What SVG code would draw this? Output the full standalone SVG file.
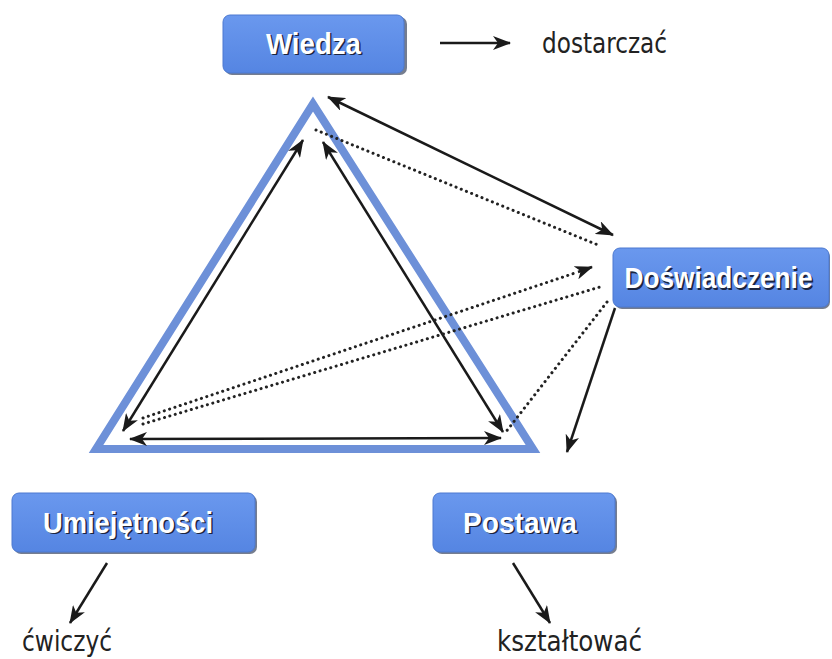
<svg xmlns="http://www.w3.org/2000/svg" width="832" height="659" viewBox="0 0 832 659">
<style>
.box{fill:url(#bg);stroke:#4c79d0;stroke-width:1}
.shadow{fill:#3a4660;opacity:0.7}
.lbl{font-family:"Liberation Sans",Arial,sans-serif;font-weight:bold;font-size:29px;text-anchor:middle}
.lbl-s{fill:#1c2540}
.lbl-f{fill:#ffffff}
.txt{font-family:"DejaVu Sans Condensed","DejaVu Sans",sans-serif;font-size:29px;fill:#222}
.arr{stroke:#1a1a1a;stroke-width:2.5;fill:none}
.dot{stroke:#222;stroke-width:3;fill:none;stroke-linecap:round;stroke-dasharray:0.1 5.5}
</style>
<defs>
<linearGradient id="bg" x1="0" y1="0" x2="0" y2="1">
<stop offset="0" stop-color="#6a98ee"/>
<stop offset="1" stop-color="#5585e2"/>
</linearGradient>
<marker id="ah" markerUnits="userSpaceOnUse" markerWidth="18" markerHeight="14" viewBox="0 0 18 14" refX="17" refY="7" orient="auto-start-reverse">
<path d="M0,0 L18,7 L0,14 L5,7 z" fill="#1a1a1a"/>
</marker>
</defs>

<g id="triangle">
<polygon points="313,104 96,449 533,449" fill="none" stroke="#6d90d8" stroke-width="8" stroke-linejoin="miter"/>
</g>

<g id="connectors">
<line class="arr" x1="440" y1="43" x2="510" y2="43" marker-end="url(#ah)"/>
<line class="arr" x1="328" y1="97" x2="613" y2="235" marker-start="url(#ah)" marker-end="url(#ah)"/>
<line class="arr" x1="303" y1="140" x2="123" y2="431" marker-start="url(#ah)" marker-end="url(#ah)"/>
<line class="arr" x1="323" y1="142" x2="503" y2="432" marker-start="url(#ah)" marker-end="url(#ah)"/>
<line class="arr" x1="130" y1="439" x2="501" y2="438" marker-start="url(#ah)" marker-end="url(#ah)"/>
<line class="arr" x1="615" y1="308" x2="567" y2="452" marker-end="url(#ah)"/>
<line class="arr" x1="107" y1="563" x2="70" y2="623" marker-end="url(#ah)"/>
<line class="arr" x1="513" y1="563" x2="550" y2="623" marker-end="url(#ah)"/>
<line class="dot" x1="316" y1="130" x2="598" y2="245"/>
<line class="dot" x1="143" y1="418" x2="578" y2="272"/>
<line class="arr" x1="578" y1="272" x2="592" y2="267" marker-end="url(#ah)" stroke-width="0.1"/>
<line class="dot" x1="143" y1="424" x2="600" y2="287"/>
<line class="dot" x1="607" y1="302" x2="505" y2="433"/>
</g>

<g id="wiedza">
<rect class="shadow" x="225" y="17" width="182" height="58" rx="7"/>
<rect class="box" x="223" y="15" width="181" height="58" rx="7"/>
<text class="lbl lbl-s" x="315" y="55" textLength="95" lengthAdjust="spacingAndGlyphs">Wiedza</text>
<text class="lbl lbl-f" x="313.5" y="53.5" textLength="95" lengthAdjust="spacingAndGlyphs">Wiedza</text>
</g>

<g id="doswiadczenie">
<rect class="shadow" x="615" y="250" width="215" height="59" rx="7"/>
<rect class="box" x="613" y="248" width="216" height="59" rx="7"/>
<text class="lbl lbl-s" x="720" y="289.5" font-size="26" textLength="188" lengthAdjust="spacingAndGlyphs">Doświadczenie</text>
<text class="lbl lbl-f" x="718.5" y="288" font-size="26" textLength="188" lengthAdjust="spacingAndGlyphs">Doświadczenie</text>
</g>

<g id="umiejetnosci">
<rect class="shadow" x="14" y="495" width="243" height="59" rx="7"/>
<rect class="box" x="12" y="493" width="243" height="59" rx="7"/>
<text class="lbl lbl-s" x="129.5" y="534" textLength="170" lengthAdjust="spacingAndGlyphs">Umiejętności</text>
<text class="lbl lbl-f" x="128" y="532.5" textLength="170" lengthAdjust="spacingAndGlyphs">Umiejętności</text>
</g>

<g id="postawa">
<rect class="shadow" x="435" y="495" width="182" height="59" rx="7"/>
<rect class="box" x="433" y="493" width="182" height="59" rx="7"/>
<text class="lbl lbl-s" x="521.5" y="534" textLength="114" lengthAdjust="spacingAndGlyphs">Postawa</text>
<text class="lbl lbl-f" x="520" y="532.5" textLength="114" lengthAdjust="spacingAndGlyphs">Postawa</text>
</g>

<g id="dostarczac">
<text class="txt" x="542" y="53" textLength="125" lengthAdjust="spacingAndGlyphs">dostarczać</text>
</g>
<g id="cwiczyc">
<text class="txt" x="22" y="651" textLength="90" lengthAdjust="spacingAndGlyphs">ćwiczyć</text>
</g>
<g id="ksztaltowac">
<text class="txt" x="497" y="651" textLength="145" lengthAdjust="spacingAndGlyphs">kształtować</text>
</g>
</svg>
